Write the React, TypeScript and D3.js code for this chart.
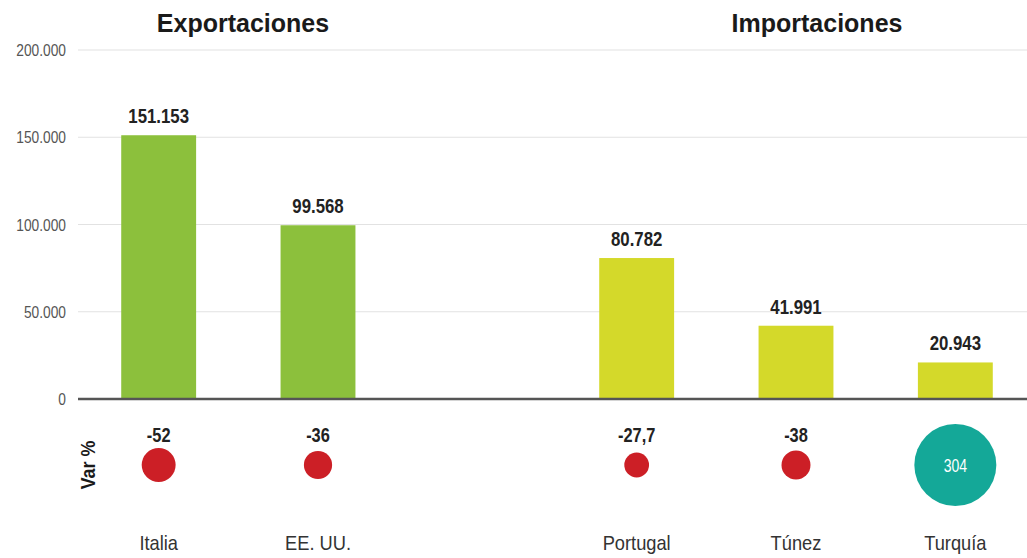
import React, { useEffect, useRef } from 'react';
import * as d3 from 'd3';

const countries = ['Italia', 'EE. UU.', '', 'Portugal', 'Túnez', 'Turquía'];
const values = [151153, 99568, null, 80782, 41991, 20943];
const varPct = [-52, -36, null, -27.7, -38, 304];
const groups = ['exp', 'exp', null, 'imp', 'imp', 'imp'];
const yTicks = [0, 50000, 100000, 150000, 200000];
const titles = [
  { text: 'Exportaciones', x: 243 },
  { text: 'Importaciones', x: 817 },
];

const fmt = (v: number) => d3.format(',.0f')(v).replace(/,/g, '.');
const fmtPct = (v: number) => String(v).replace('.', ',');

const font = "'Liberation Sans', Arial, sans-serif";

const App: React.FC = () => {
  const ref = useRef<SVGSVGElement>(null);
  const width = 1027;
  const height = 558;

  useEffect(() => {
    if (!ref.current) return;
    const svg = d3.select(ref.current);
    svg.selectAll('*').remove();

    const x = d3
      .scaleBand<string>()
      .domain(countries.map((c, i) => c || `gap${i}`))
      .range([79, 1035])
      .paddingInner(0.53)
      .paddingOuter(0.265);
    const y = d3.scaleLinear().domain([0, 200000]).range([399, 50]);
    const r = d3.scaleSqrt().domain([0, 304]).range([0, 41]);
    const key = (i: number) => countries[i] || `gap${i}`;
    const cx = (i: number) => x(key(i))! + x.bandwidth() / 2;

    // narrow text: the source uses a condensed face, squeeze a regular one
    const narrow = (
      g: d3.Selection<SVGGElement, unknown, null, undefined>,
      data: number[],
      px: (i: number) => number,
      py: (i: number) => number,
      label: (i: number) => string,
      size: number,
      sx: number,
      fill: string,
      bold: boolean,
      anchor = 'middle',
    ) =>
      g
        .selectAll('text')
        .data(data)
        .enter()
        .append('text')
        .attr('transform', i => `translate(${px(i)},${py(i)}) scale(${sx},1)`)
        .attr('text-anchor', anchor)
        .attr('font-family', font)
        .attr('font-weight', bold ? 'bold' : 'normal')
        .attr('font-size', size)
        .attr('fill', fill)
        .text(label);

    // grid
    svg
      .append('g')
      .selectAll('line')
      .data(yTicks.filter(t => t > 0))
      .enter()
      .append('line')
      .attr('x1', 78)
      .attr('x2', width)
      .attr('y1', d => y(d))
      .attr('y2', d => y(d))
      .attr('stroke', '#e2e2e2')
      .attr('stroke-width', 1.2);

    narrow(
      svg.append('g'),
      yTicks,
      () => 66,
      d => y(d) + 6,
      d => fmt(d),
      16,
      0.86,
      '#555',
      false,
      'end',
    );

    // titles
    svg
      .selectAll('.title')
      .data(titles)
      .enter()
      .append('text')
      .attr('x', d => d.x)
      .attr('y', 32)
      .attr('text-anchor', 'middle')
      .attr('font-family', font)
      .attr('font-weight', 'bold')
      .attr('font-size', 25)
      .attr('fill', '#1a1a1a')
      .text(d => d.text);

    const idx = countries.map((_, i) => i).filter(i => values[i] !== null);

    // bars
    svg
      .append('g')
      .selectAll('rect')
      .data(idx)
      .enter()
      .append('rect')
      .attr('x', i => x(key(i))!)
      .attr('width', x.bandwidth())
      .attr('y', i => y(values[i]!))
      .attr('height', i => y(0) - y(values[i]!))
      .attr('fill', i => (groups[i] === 'exp' ? '#8cc03c' : '#d4d92a'));

    narrow(
      svg.append('g'),
      idx,
      cx,
      i => y(values[i]!) - 12,
      i => fmt(values[i]!),
      21,
      0.8,
      '#222',
      true,
    );

    // zero line
    svg
      .append('line')
      .attr('x1', 78)
      .attr('x2', width)
      .attr('y1', y(0))
      .attr('y2', y(0))
      .attr('stroke', '#555')
      .attr('stroke-width', 2.5);

    // var %
    const cy = 465;
    svg
      .append('text')
      .attr('transform', `translate(95,${cy}) rotate(-90) scale(0.85,1)`)
      .attr('text-anchor', 'middle')
      .attr('font-family', font)
      .attr('font-weight', 'bold')
      .attr('font-size', 21)
      .attr('fill', '#1a1a1a')
      .text('Var %');

    svg
      .append('g')
      .selectAll('circle')
      .data(idx)
      .enter()
      .append('circle')
      .attr('cx', cx)
      .attr('cy', cy)
      .attr('r', i => r(Math.abs(varPct[i]!)))
      .attr('fill', i => (varPct[i]! < 0 ? '#cc1f26' : '#14a898'));

    narrow(
      svg.append('g'),
      idx.filter(i => varPct[i]! < 0),
      cx,
      () => 442,
      i => fmtPct(varPct[i]!),
      21,
      0.78,
      '#222',
      true,
    );

    narrow(
      svg.append('g'),
      idx.filter(i => varPct[i]! > 0),
      cx,
      () => cy + 7,
      i => fmtPct(varPct[i]!),
      18,
      0.78,
      '#fff',
      false,
    );

    // country labels
    narrow(
      svg.append('g'),
      idx,
      cx,
      () => 550,
      i => countries[i],
      21,
      0.87,
      '#333',
      false,
    );
  }, []);

  return (
    <svg
      ref={ref}
      width={width}
      height={height}
      style={{ position: 'absolute', left: 0, top: 0, background: '#fff' }}
    />
  );
};

export default App;
